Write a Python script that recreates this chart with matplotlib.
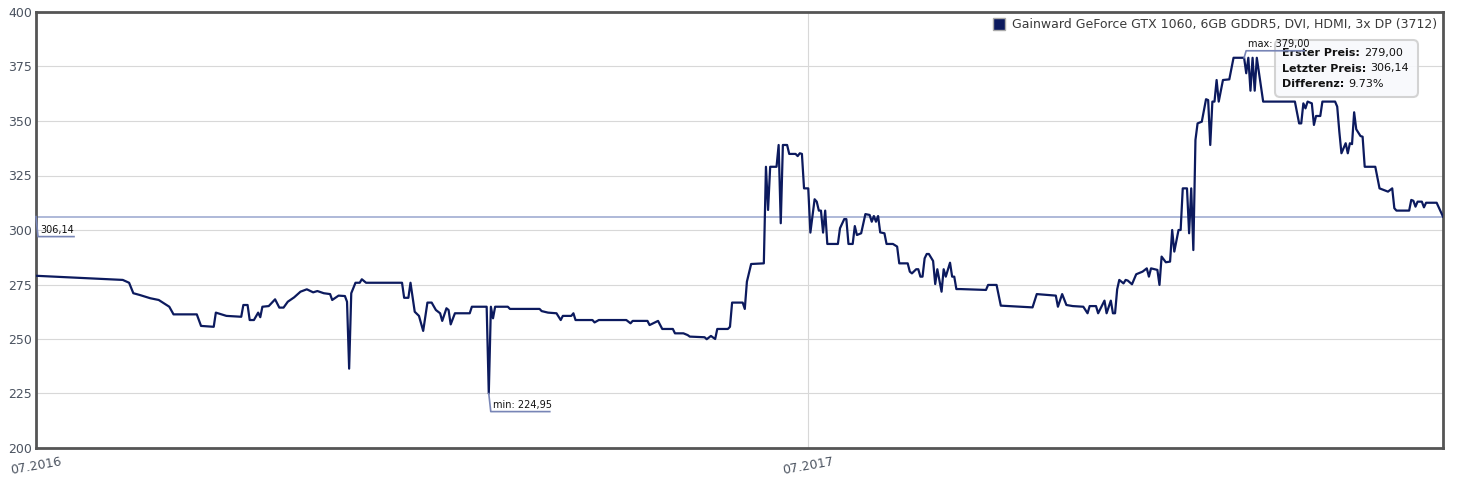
import pandas as pd
import matplotlib.pyplot as plt
import matplotlib.dates as mdates
from matplotlib.lines import Line2D
from matplotlib.patches import FancyBboxPatch
from matplotlib.transforms import IdentityTransform

product = "Gainward GeForce GTX 1060, 6GB GDDR5, DVI, HDMI, 3x DP (3712)"
start_date = "2016-07-01"
end_date = "2018-04-27"

# days since start_date
day_offsets = [
    0, 41, 44, 46, 49, 54, 58, 63, 65, 76, 78, 84, 85, 90, 97, 98, 100, 101, 103, 105,
    106, 107, 110, 113, 115, 117, 119, 122, 125, 128, 131, 133, 136, 139, 140, 143, 146, 147, 148, 149,
    151, 153, 154, 156, 173, 174, 176, 177, 179, 181, 183, 185, 187, 189, 191, 192, 194, 195, 196, 198,
    205, 206, 213, 214, 215, 216, 217, 223, 224, 238, 239, 242, 246, 248, 249, 253, 254, 255, 263, 264,
    266, 279, 281, 282, 289, 290, 294, 296, 301, 302, 306, 308, 309, 316, 317, 319, 321, 322, 327, 328,
    329, 334, 335, 336, 338, 344, 345, 346, 347, 350, 351, 352, 353, 355, 356, 359, 360, 361, 362, 363,
    365, 366, 368, 369, 370, 371, 372, 373, 374, 379, 380, 382, 383, 384, 386, 387, 388, 390, 392, 394,
    395, 396, 397, 398, 399, 401, 402, 405, 407, 408, 412, 413, 414, 416, 417, 418, 419, 420, 421, 422,
    424, 425, 426, 428, 429, 430, 432, 433, 434, 435, 437, 449, 450, 454, 456, 471, 473, 482, 483, 485,
    487, 490, 495, 497, 498, 501, 502, 505, 506, 508, 509, 510, 511, 512, 514, 515, 516, 518, 520, 523,
    525, 526, 527, 530, 531, 532, 534, 536, 537, 538, 540, 541, 542, 544, 545, 546, 547, 548, 549, 551,
    553, 554, 555, 556, 557, 558, 559, 561, 564, 566, 571, 572, 573, 574, 575, 576, 577, 580, 595, 597,
    598, 599, 600, 601, 603, 604, 605, 607, 608, 614, 615, 616, 617, 619, 620, 621, 622, 623, 624, 626,
    627, 628, 633, 635, 639, 641, 642, 643, 649, 650, 651, 652, 653, 655, 656, 657, 662, 665,
]
prices = [
    279.0, 277.1, 275.8, 271.0, 270.2, 268.7, 267.9, 264.8, 261.3, 261.3, 256.0, 255.6, 262.1, 260.6, 260.2, 265.6, 265.6, 258.7, 258.7, 262.1,
    260.0, 264.8, 265.1, 268.2, 264.4, 264.4, 267.1, 269.1, 271.7, 272.8, 271.4, 272.0, 271.0, 270.6, 267.9, 269.9, 269.7, 267.1, 236.4, 271.0,
    275.8, 275.8, 277.4, 275.8, 275.8, 268.9, 268.9, 275.8, 262.5, 260.6, 253.7, 266.7, 266.7, 263.3, 261.8, 258.3, 264.1, 263.3, 256.7, 261.8,
    261.8, 264.8, 264.8, 224.95, 264.8, 259.5, 264.8, 264.8, 263.8, 263.8, 262.8, 262.1, 261.8, 258.7, 260.6, 260.6, 261.8, 258.7, 258.7, 257.6,
    258.7, 258.7, 257.2, 258.3, 258.3, 256.4, 258.3, 254.6, 254.6, 252.6, 252.6, 251.8, 251.1, 250.8, 249.9, 251.4, 250.0, 254.6, 254.6, 255.6,
    266.7, 266.7, 263.8, 276.3, 284.4, 284.7, 329.0, 309.2, 329.0, 329.0, 339.0, 303.1, 339.0, 339.0, 334.9, 334.9, 333.9, 335.2, 334.9, 319.1,
    319.1, 298.8, 314.1, 313.0, 308.9, 308.9, 298.8, 308.9, 293.6, 293.6, 300.8, 305.0, 305.0, 293.6, 293.6, 301.8, 297.7, 298.5, 307.3, 306.9,
    303.8, 306.4, 303.8, 306.4, 298.9, 298.5, 293.6, 293.6, 292.4, 284.7, 284.7, 280.9, 280.1, 282.0, 282.0, 278.6, 278.6, 287.0, 289.0, 289.0,
    285.8, 275.2, 282.0, 271.7, 282.0, 278.6, 285.0, 278.6, 278.6, 272.9, 272.9, 272.5, 274.8, 274.8, 265.3, 264.5, 270.6, 269.9, 264.8, 270.6,
    265.6, 265.1, 264.8, 261.8, 265.1, 265.1, 261.8, 267.6, 261.8, 267.6, 261.8, 261.8, 272.8, 277.1, 275.5, 277.1, 276.8, 275.1, 279.7, 280.9,
    282.4, 278.6, 282.4, 281.7, 274.8, 287.8, 285.2, 285.5, 300.0, 290.1, 300.0, 300.0, 319.1, 319.1, 298.5, 319.1, 290.8, 341.3, 348.9, 349.7,
    360.0, 359.6, 339.0, 358.9, 358.9, 368.8, 358.9, 368.8, 369.1, 379.0, 379.0, 371.9, 379.0, 363.9, 379.0, 363.9, 379.0, 358.9, 358.9, 348.9,
    348.9, 358.1, 355.8, 358.9, 358.1, 348.2, 352.3, 352.3, 358.9, 358.9, 356.6, 345.1, 335.2, 339.8, 335.2, 339.8, 339.4, 354.0, 346.2, 343.1,
    342.8, 329.0, 329.0, 319.1, 317.6, 319.1, 310.0, 308.9, 308.9, 313.8, 313.4, 310.7, 313.0, 313.0, 310.4, 312.5, 312.5, 306.14,
]

tick_dates = ["2016-07-01", "2017-07-01"]
tick_labels = ["07.2016", "07.2017"]
y_ticks = [200, 225, 250, 275, 300, 325, 350, 375, 400]

navy = "#0c1a5e"
flag_color = "#7885b6"
label_color = "#4b5360"


def de(v):
    return f"{v:.2f}".replace(".", ",")


dates = pd.to_datetime(start_date) + pd.to_timedelta(day_offsets, unit="D")
first_price = prices[0]
last_price = prices[-1]
min_price = min(prices)
max_price = max(prices)
diff = (last_price - first_price) / first_price * 100

fig = plt.figure(figsize=(14.62, 4.84), dpi=100)
ax = fig.add_axes([36 / 1462, 1 - 448 / 484, 1407 / 1462, 436 / 484])

ax.plot(dates, prices, color=navy, lw=1.6, zorder=3, solid_joinstyle="round")
ax.axhline(last_price, color="#a8b3d6", lw=1.3, zorder=2)

ax.set_xlim(pd.to_datetime(start_date), pd.to_datetime(end_date))
ax.set_ylim(200, 400)
ax.set_yticks(y_ticks)
ax.set_xticks(pd.to_datetime(tick_dates))
ax.set_xticklabels(tick_labels, rotation=10, ha="center")
ax.grid(True, color="#d8d8d8", lw=0.8)
ax.set_axisbelow(True)
ax.tick_params(axis="y", length=0, pad=3, labelsize=9, labelcolor=label_color)
ax.tick_params(axis="x", length=0, pad=5, labelsize=9, labelcolor=label_color)
for s in ax.spines.values():
    s.set_color("#555555")
    s.set_linewidth(2)

handle = Line2D([], [], ls="", marker="s", markersize=9, markerfacecolor=navy,
                markeredgecolor="#aaaaaa", markeredgewidth=1)
ax.legend([handle], [product], loc="upper right", frameon=False, fontsize=9,
          labelcolor="#3a3a3a", handlelength=0.8, handletextpad=0.6,
          borderaxespad=0.2, borderpad=0.3)

# summary box (drawn before the flags so the max flag sits on top of it)
box = FancyBboxPatch((1275, 484 - 97), 143, 57, boxstyle="round,pad=0,rounding_size=5",
                     transform=IdentityTransform(), facecolor="#f8f9fc", edgecolor="#cfcfcf",
                     lw=1.5, zorder=6, alpha=0.9)
fig.add_artist(box)
renderer = fig.canvas.get_renderer()
rows = [("Erster Preis:", de(first_price)),
        ("Letzter Preis:", de(last_price)),
        ("Differenz:", f"{diff:.2f}%")]
for k, (lab, val) in enumerate(rows):
    y = (484 - 53 - 15.5 * k) / 484
    t = fig.text(1282 / 1462, y, lab, fontsize=8, fontweight="bold", color="#111111",
                 va="center", ha="left", zorder=7)
    w = t.get_window_extent(renderer).width
    fig.text((1282 + w + 4) / 1462, y, val, fontsize=8, color="#111111",
             va="center", ha="left", zorder=7)


def flag(date, value, dx, dy, width, text):
    px, py = ax.transData.transform((mdates.date2num(date), value))
    xs = [px, px + dx, px + dx + width]
    ys = [py, py + dy, py + dy]
    fig.add_artist(Line2D(xs, ys, color=flag_color, lw=1.2, transform=IdentityTransform(), zorder=8))
    fig.text((px + dx + 2) / 1462, (py + dy + 2) / 484, text, fontsize=7, color="#111111",
             va="bottom", ha="left", zorder=9)


i_max = prices.index(max_price)
while prices[i_max + 1] == max_price:
    i_max += 1
i_min = prices.index(min_price)

flag(dates[0], last_price, 2, -20, 36, de(last_price))
flag(dates[i_min], min_price, 2, -18, 59, "min: " + de(min_price))
flag(dates[i_max], max_price, 2, 7, 58, "max: " + de(max_price))

fig.savefig("out.png", dpi=100)
